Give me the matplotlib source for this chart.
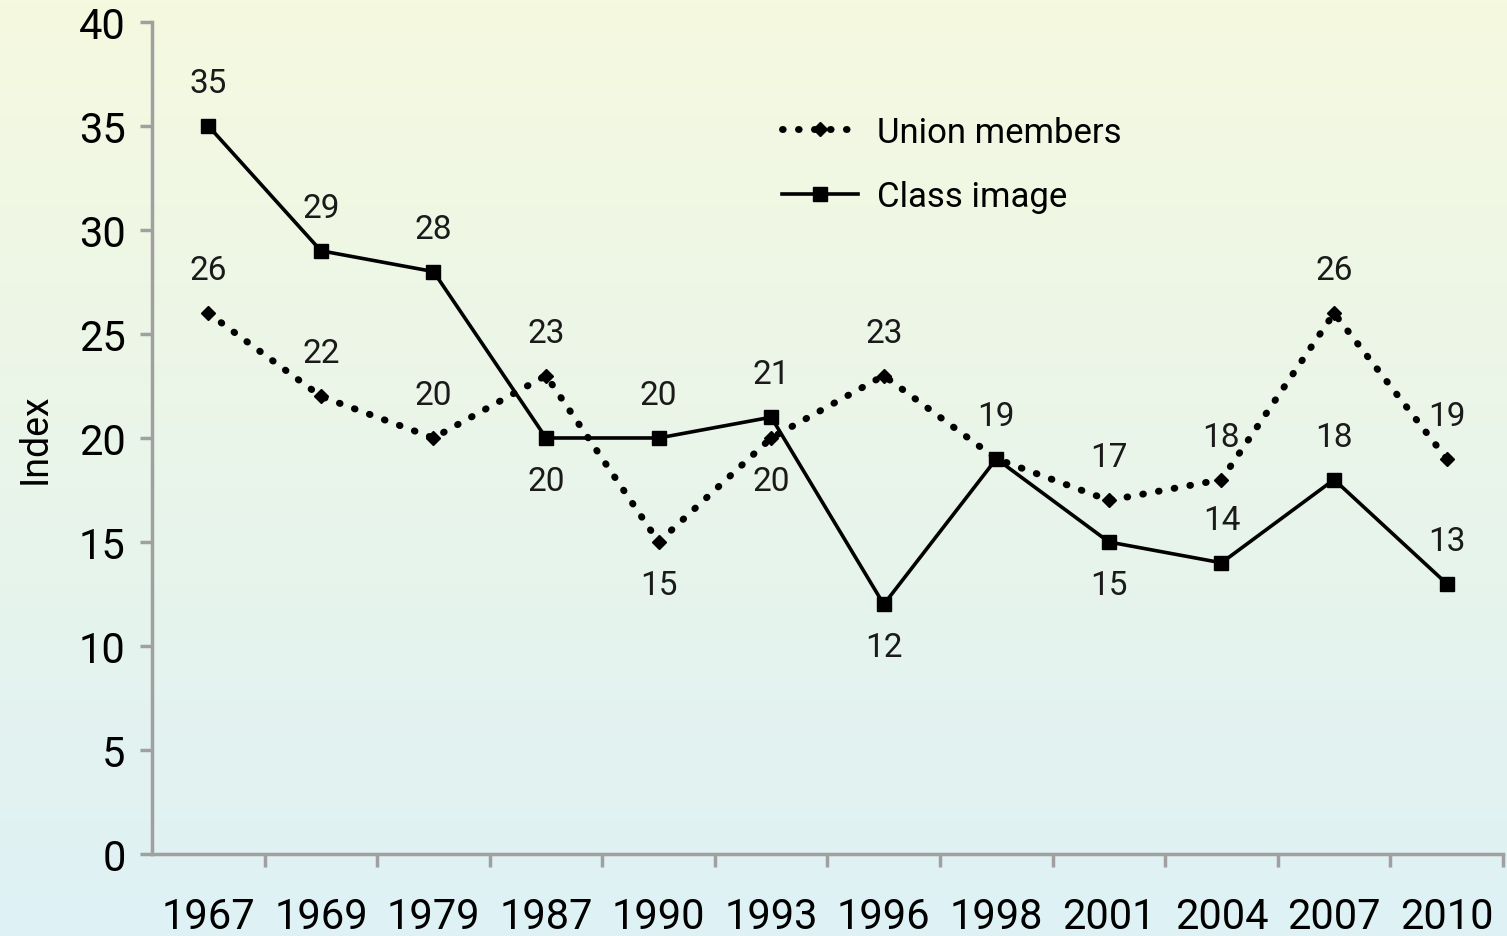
import numpy as np
import matplotlib.pyplot as plt
from matplotlib.colors import LinearSegmentedColormap

years = ['1967', '1969', '1979', '1987', '1990', '1993', '1996', '1998', '2001', '2004', '2007', '2010']
union = [26, 22, 20, 23, 15, 20, 23, 19, 17, 18, 26, 19]
klass = [35, 29, 28, 20, 20, 21, 12, 19, 15, 14, 18, 13]
# label placement: 1 above, -1 below, 0 hidden
union_pos = [1, 1, 1, 1, -1, -1, 1, 1, 1, 1, 1, 1]
klass_pos = [1, 1, 1, -1, 1, 1, -1, 0, -1, 1, 1, 1]

plt.rcParams['font.family'] = ['Roboto', 'DejaVu Sans']

fig = plt.figure(figsize=(15.07, 9.37), dpi=100)

# gradient background
bg = fig.add_axes([0, 0, 1, 1], zorder=-10)
cmap = LinearSegmentedColormap.from_list('bg', ['#f5f9df', '#def1f5'])
bg.imshow(np.linspace(0, 1, 256).reshape(-1, 1), aspect='auto', cmap=cmap,
          extent=[0, 1, 0, 1])
bg.axis('off')

ax = fig.add_axes([0.1009, 0.0875, 0.8964, 0.888])
ax.patch.set_alpha(0)

x = np.arange(len(years))
ax.plot(x, union, color='black', lw=5, linestyle=(0, (0.1, 2.2)),
        dash_capstyle='round', marker='D', ms=7, label='Union members')
ax.plot(x, klass, color='black', lw=2.6, marker='s', ms=10,
        label='Class image')

for xi, v, p in zip(x, union, union_pos):
    if p:
        ax.annotate(str(v), (xi, v), xytext=(0, 31 * p), textcoords='offset points',
                    ha='center', va='center', fontsize=24, color='#1a1a1a')
for xi, v, p in zip(x, klass, klass_pos):
    if p:
        ax.annotate(str(v), (xi, v), xytext=(0, 31 * p), textcoords='offset points',
                    ha='center', va='center', fontsize=24, color='#1a1a1a')

ax.set_xlim(-0.5, len(years) - 0.5)
ax.set_ylim(0, 40)
ax.set_yticks(range(0, 41, 5))
ax.set_xticks(x)
ax.set_xticklabels(years)
ax.set_xticks(np.arange(0.5, len(years), 1), minor=True)

for s in ['top', 'right']:
    ax.spines[s].set_visible(False)
for s in ['left', 'bottom']:
    ax.spines[s].set_color('#a0a0a0')
    ax.spines[s].set_linewidth(2.5)

ax.tick_params(axis='y', direction='out', length=9, width=2.5, color='#a0a0a0',
               labelsize=30, pad=10)
ax.tick_params(axis='x', which='major', length=0, labelsize=30, pad=30)
ax.tick_params(axis='x', which='minor', direction='out', length=9, width=2.5,
               color='#a0a0a0')

ax.set_ylabel('Index', fontsize=27, labelpad=18)

ax.legend(loc='upper left', bbox_to_anchor=(0.443, 0.925), frameon=False,
          fontsize=25, handlelength=2.2, handletextpad=0.55, labelspacing=0.9)

plt.savefig('out.png', dpi=100)
